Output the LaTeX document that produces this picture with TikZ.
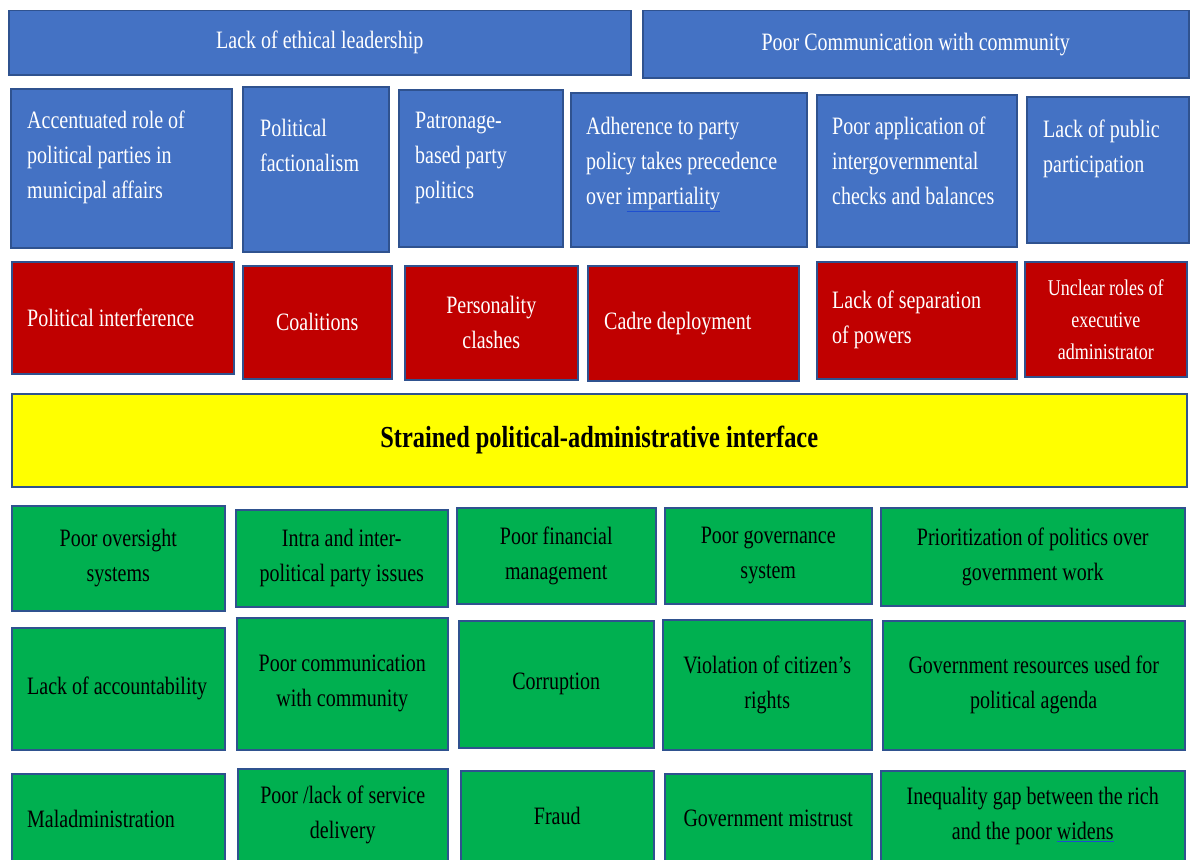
\documentclass[tikz,border=0pt]{standalone}
\usepackage{fontspec}
\setmainfont{Liberation Serif}[FakeStretch=0.8]
\definecolor{boxblue}{HTML}{4472C4}
\definecolor{edgeblue}{HTML}{2F528F}
\definecolor{boxred}{HTML}{C00000}
\definecolor{boxgreen}{HTML}{00B050}
\definecolor{boxyellow}{HTML}{FFFF00}
\definecolor{spellblue}{HTML}{1F4FD0}
% blue underline as in the source picture
\newcommand{\spellw}[1]{{\color{spellblue}\underline{\color{white}#1}}}
\newcommand{\spellb}[1]{{\color{spellblue}\underline{\color{black}#1}}}
\tikzset{
  cell/.style={draw=edgeblue, line width=1.5pt, anchor=north west, inner sep=0pt},
  bluecell/.style={cell, fill=boxblue},
  redcell/.style={cell, fill=boxred},
  greencell/.style={cell, fill=boxgreen},
  yellowcell/.style={cell, fill=boxyellow},
  wlabel/.style={text=white, inner sep=0pt, font=\fontsize{25}{35}\selectfont},
  blabel/.style={text=black, inner sep=0pt, font=\fontsize{25}{35}\selectfont},
}
\begin{document}
\begin{tikzpicture}[x=1pt,y=1pt]
\useasboundingbox (0,0) rectangle (1190,-859);
\clip (0,0) rectangle (1190,-859);
% top row
\node[bluecell, minimum width=622pt, minimum height=64pt] (ethics) at (8,-10) {};
\node[wlabel] (ethics-t) at (ethics.center) {Lack of ethical leadership};
\node[bluecell, minimum width=546pt, minimum height=67pt] (commun) at (642,-10) {};
\node[wlabel] (commun-t) at (commun.center) {Poor Communication with community};
% blue causes
\node[bluecell, minimum width=221pt, minimum height=159pt] (accent) at (10,-88) {};
\node[wlabel, align=left, anchor=north west] (accent-t) at ([shift={(17pt,-23pt)}]accent.north west) {Accentuated role of\\political parties in\\municipal affairs};
\node[bluecell, minimum width=146pt, minimum height=165pt] (faction) at (242,-86) {};
\node[wlabel, align=left, anchor=north west] (faction-t) at ([shift={(18pt,-33pt)}]faction.north west) {Political\\factionalism};
\node[bluecell, minimum width=164pt, minimum height=157pt] (patron) at (398,-89) {};
\node[wlabel, align=left, anchor=north west] (patron-t) at ([shift={(17pt,-23pt)}]patron.north west) {Patronage-\\based party\\politics};
\node[bluecell, minimum width=236pt, minimum height=154pt] (adhere) at (570,-92) {};
\node[wlabel, align=left, anchor=north west] (adhere-t) at ([shift={(16pt,-25pt)}]adhere.north west) {Adherence to party\\policy takes precedence\\over \spellw{impartiality}};
\node[bluecell, minimum width=200pt, minimum height=152pt] (checks) at (816,-94) {};
\node[wlabel, align=left, anchor=north west] (checks-t) at ([shift={(16pt,-23pt)}]checks.north west) {Poor application of\\intergovernmental\\checks and balances};
\node[bluecell, minimum width=162pt, minimum height=146pt] (public) at (1026,-96) {};
\node[wlabel, align=left, anchor=north west] (public-t) at ([shift={(17pt,-24pt)}]public.north west) {Lack of public\\participation};
% red causes
\node[redcell, minimum width=222pt, minimum height=112pt] (interf) at (11,-261) {};
\node[wlabel, anchor=west] (interf-t) at ([xshift=16pt]interf.west) {Political interference};
\node[redcell, minimum width=149pt, minimum height=113pt] (coal) at (242,-265) {};
\node[wlabel] (coal-t) at (coal.center) {Coalitions};
\node[redcell, minimum width=173pt, minimum height=114pt] (clash) at (404,-265) {};
\node[wlabel, align=center] (clash-t) at (clash.center) {Personality\\clashes};
\node[redcell, minimum width=211pt, minimum height=115pt] (cadre) at (587,-265) {};
\node[wlabel, anchor=west] (cadre-t) at ([xshift=17pt]cadre.west) {Cadre deployment};
\node[redcell, minimum width=200pt, minimum height=117pt] (separ) at (816,-261) {};
\node[wlabel, align=left, anchor=west] (separ-t) at ([xshift=16pt]separ.west) {Lack of separation\\of powers};
\node[redcell, minimum width=162pt, minimum height=115pt] (roles) at (1024,-261) {};
\node[wlabel, align=center, font=\fontsize{22.5}{32}\selectfont] (roles-t) at (roles.center) {Unclear roles of\\executive\\administrator};
% centre problem
\node[yellowcell, minimum width=1175pt, minimum height=93pt] (strain) at (11,-393) {};
\node[blabel, font=\fontsize{30.5}{36}\selectfont\bfseries] (strain-t) at (strain.center) {Strained political-administrative interface};
% green effects
\node[greencell, minimum width=213pt, minimum height=105pt] (oversight) at (11,-505) {};
\node[blabel, align=center] (oversight-t) at (oversight.center) {Poor oversight\\systems};
\node[greencell, minimum width=212pt, minimum height=97pt] (party) at (235,-509) {};
\node[blabel, align=center] (party-t) at (party.center) {Intra and inter-\\political party issues};
\node[greencell, minimum width=199pt, minimum height=96pt] (finance) at (456,-507) {};
\node[blabel, align=center] (finance-t) at (finance.center) {Poor financial\\management};
\node[greencell, minimum width=207pt, minimum height=96pt] (govsys) at (664,-507) {};
\node[blabel, align=center] (govsys-t) at (govsys.center) {Poor governance\\system};
\node[greencell, minimum width=304pt, minimum height=98pt] (priority) at (880,-507) {};
\node[blabel, align=center] (priority-t) at (priority.center) {Prioritization of politics over\\government work};
\node[greencell, minimum width=213pt, minimum height=122pt] (account) at (11,-627) {};
\node[blabel, anchor=west] (account-t) at ([xshift=16pt]account.west) {Lack of accountability};
\node[greencell, minimum width=211pt, minimum height=132pt] (poorcom) at (236,-617) {};
\node[blabel, align=center] (poorcom-t) at (poorcom.center) {Poor communication\\with community};
\node[greencell, minimum width=195pt, minimum height=127pt] (corrupt) at (458,-620) {};
\node[blabel] (corrupt-t) at (corrupt.center) {Corruption};
\node[greencell, minimum width=209pt, minimum height=130pt] (rights) at (662,-619) {};
\node[blabel, align=center] (rights-t) at (rights.center) {Violation of citizen’s\\rights};
\node[greencell, minimum width=302pt, minimum height=129pt] (resource) at (882,-620) {};
\node[blabel, align=center] (resource-t) at (resource.center) {Government resources used for\\political agenda};
\node[greencell, minimum width=213pt, minimum height=90pt] (maladm) at (11,-773) {};
\node[blabel, anchor=west] (maladm-t) at ([xshift=16pt]maladm.west) {Maladministration};
\node[greencell, minimum width=210pt, minimum height=92pt] (service) at (237,-768) {};
\node[blabel, align=center] (service-t) at (service.center) {Poor /lack of service\\delivery};
\node[greencell, minimum width=193pt, minimum height=90pt] (fraud) at (460,-770) {};
\node[blabel] (fraud-t) at (fraud.center) {Fraud};
\node[greencell, minimum width=207pt, minimum height=90pt] (mistrust) at (664,-773) {};
\node[blabel] (mistrust-t) at (mistrust.center) {Government mistrust};
\node[greencell, minimum width=304pt, minimum height=90pt] (gap) at (880,-770) {};
\node[blabel, align=center] (gap-t) at (gap.center) {Inequality gap between the rich\\and the poor \spellb{widens}};
\end{tikzpicture}
\end{document}
